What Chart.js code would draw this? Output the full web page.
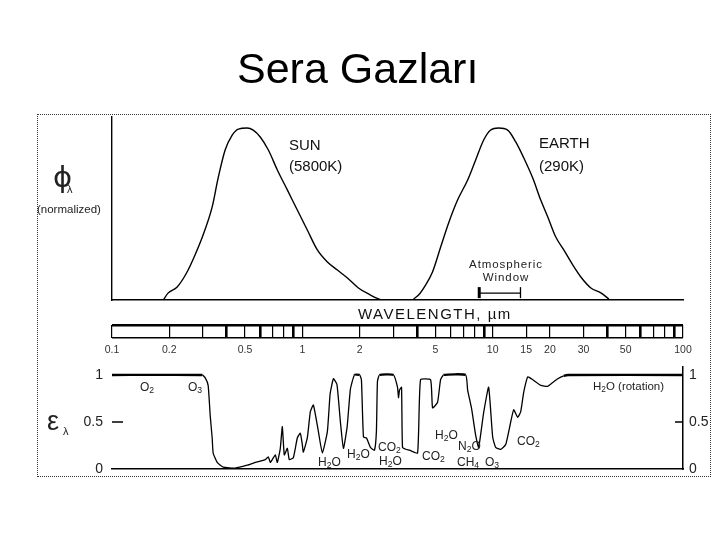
<!DOCTYPE html>
<html><head><meta charset="utf-8">
<script src="https://cdn.jsdelivr.net/npm/chart.js@4.4.1/dist/chart.umd.min.js"></script>
<style>
html,body{margin:0;padding:0;background:#fff;}
#wrap{position:relative;width:720px;height:540px;overflow:hidden;background:#fff;font-family:'Liberation Sans',Arial,sans-serif;color:#222;}
canvas{position:absolute;left:0;top:0;}
.t{position:absolute;white-space:nowrap;line-height:1;}
.t sub{font-size:0.72em;vertical-align:-0.28em;line-height:0;}
.s12{font-size:12px;}
.s15{font-size:15px;color:#111;}
</style></head><body>
<div id="wrap">
<div style="position:absolute;left:37px;top:114px;width:674px;height:363px;box-sizing:border-box;border:1px dotted #333;"></div>
<canvas id="cTop" width="720" height="540"></canvas>
<canvas id="cStrip" width="720" height="540"></canvas>
<canvas id="cAbs" width="720" height="540"></canvas>

<div class="t" style="left:237px;top:47px;font-size:43px;color:#000;">Sera Gazları</div>

<div class="t" style="left:53px;top:163px;font-size:29px;font-family:'DejaVu Sans';color:#222;">ϕ</div>
<div class="t" style="left:67px;top:184px;font-size:11px;">λ</div>
<div class="t" style="left:37px;top:204px;font-size:11.5px;">(normalized)</div>

<div class="t s15" style="left:289px;top:137px;">SUN</div>
<div class="t s15" style="left:289px;top:158px;">(5800K)</div>
<div class="t s15" style="left:539px;top:135px;">EARTH</div>
<div class="t s15" style="left:539px;top:158px;">(290K)</div>
<div class="t" style="left:456px;top:258px;width:100px;text-align:center;font-size:11.5px;line-height:13px;letter-spacing:0.9px;">Atmospheric<br>Window</div>

<div class="t" style="left:358px;top:306px;font-size:15px;letter-spacing:1.5px;color:#111;">WAVELENGTH, µm</div>

<div class="t" style="left:47px;top:408px;font-size:27px;">ε</div>
<div class="t" style="left:63px;top:426px;font-size:11px;">λ</div>

<div class="t s12" style="left:140px;top:381px;">O<sub>2</sub></div>
<div class="t s12" style="left:188px;top:381px;">O<sub>3</sub></div>
<div class="t s12" style="left:318px;top:456px;">H<sub>2</sub>O</div>
<div class="t s12" style="left:347px;top:448px;">H<sub>2</sub>O</div>
<div class="t s12" style="left:378px;top:441px;">CO<sub>2</sub></div>
<div class="t s12" style="left:379px;top:455px;">H<sub>2</sub>O</div>
<div class="t s12" style="left:422px;top:450px;">CO<sub>2</sub></div>
<div class="t s12" style="left:435px;top:429px;">H<sub>2</sub>O</div>
<div class="t s12" style="left:458px;top:440px;">N<sub>2</sub>O</div>
<div class="t s12" style="left:457px;top:456px;">CH<sub>4</sub></div>
<div class="t s12" style="left:485px;top:456px;">O<sub>3</sub></div>
<div class="t s12" style="left:517px;top:435px;">CO<sub>2</sub></div>
<div class="t s12" style="left:593px;top:381px;font-size:11.5px;">H<sub>2</sub>O (rotation)</div>
</div>
<script>
// ---- data ----
const wavelengthTicks = [0.1,0.2,0.3,0.4,0.5,0.6,0.7,0.8,0.9,1,2,3,4,5,6,7,8,9,10,15,20,30,40,50,60,70,80,90,100];
const wavelengthLabels = [0.1,0.2,0.5,1,2,5,10,15,20,30,50,100];
const boldTicks = [0.4,0.6,0.9,4,9,40,60,90];
const epsTicks = [0,0.5,1];
const windowRange = [8.5,14];

const sunWavelength = [0.186,0.197,0.220,0.248,0.273,0.301,0.336,0.361,0.393,0.428,0.461,0.513,0.552,0.601,0.663,0.739,0.834,0.941,1.062,1.199,1.354,1.529,1.726,1.971,2.280,2.512,2.6];
const sunPhi = [0,0.04,0.076,0.163,0.262,0.378,0.541,0.709,0.872,0.959,0.994,1.0,0.988,0.948,0.872,0.756,0.640,0.523,0.407,0.291,0.221,0.174,0.128,0.070,0.029,0.006,0];

const earthWavelength = [3.84,4.08,4.44,4.83,5.33,5.87,6.54,7.39,8.14,8.97,9.76,10.75,11.99,13.22,14.57,16.24,17.89,19.48,21.46,23.64,26.38,29.06,32.81,37.02,40.79];
const earthPhi = [0.006,0.029,0.087,0.163,0.308,0.448,0.581,0.698,0.814,0.930,0.988,1.0,0.988,0.919,0.826,0.709,0.581,0.483,0.366,0.291,0.203,0.134,0.070,0.041,0.006];

const absWavelength = [0.1,0.298,0.309,0.320,0.328,0.336,0.340,0.357,0.384,0.444,0.513,0.566,0.639,0.662,0.679,0.695,0.721,0.739,0.766,0.785,0.804,0.834,0.854,0.897,0.941,0.976,1.0,1.012,1.062,1.102,1.143,1.214,1.274,1.354,1.40,1.457,1.52,1.585,1.644,1.72,1.789,1.878,2.0,2.044,2.095,2.172,2.280,2.393,2.45,2.481,2.543,3.012,3.162,3.201,3.240,3.320,3.360,3.5,3.659,4.031,4.180,4.719,4.834,5.134,5.325,5.523,7.210,7.387,7.753,8.138,8.440,8.967,9.526,10.0,10.37,11.02,11.71,12.44,12.90,13.54,14.04,14.57,15.29,16.24,17.89,19.48,20.69,21.98,23.64,25,100];
const absEmissivity = [1,1,0.97,0.89,0.57,0.33,0.17,0.07,0.02,0.01,0.04,0.07,0.10,0.13,0.07,0.10,0.15,0.07,0.22,0.45,0.15,0.22,0.10,0.12,0.33,0.38,0.26,0.18,0.33,0.61,0.68,0.40,0.17,0.40,0.80,0.96,0.90,0.50,0.22,0.45,0.85,1.0,1.0,0.95,0.34,0.33,0.23,0.20,0.40,0.93,1.0,1.0,0.87,0.76,0.84,0.87,0.23,0.21,0.20,0.17,0.95,0.95,0.65,0.71,0.95,1.0,1.0,0.84,0.64,0.36,0.23,0.6,0.87,0.34,0.23,0.21,0.26,0.50,0.63,0.55,0.61,0.82,0.98,0.95,0.89,0.88,0.92,0.96,0.99,1.0,1.0];

// ---- setup ----
Chart.defaults.font.family = "'Liberation Sans', Arial, sans-serif";
Chart.defaults.animation = false;
Chart.defaults.plugins.legend.display = false;
Chart.defaults.plugins.tooltip.enabled = false;
Chart.defaults.events = [];

const pts = (xs, ys) => xs.map((x, i) => ({x, y: ys[i]}));
const blackLine = {borderColor:'#000', borderWidth:1.4, pointRadius:0, fill:false, cubicInterpolationMode:'monotone'};

// Top panel: normalized emission spectra
const windowBracket = {
  id:'windowBracket',
  afterDatasetsDraw(chart){
    const {ctx, scales:{x, y}} = chart;
    const x1 = x.getPixelForValue(windowRange[0]), x2 = x.getPixelForValue(windowRange[1]);
    const yy = y.getPixelForValue(0.04);
    ctx.save(); ctx.strokeStyle = '#000';
    ctx.lineWidth = 1.3; ctx.beginPath(); ctx.moveTo(x1, yy); ctx.lineTo(x2, yy); ctx.stroke();
    ctx.lineWidth = 3; ctx.beginPath(); ctx.moveTo(x1, yy-6); ctx.lineTo(x1, yy+5); ctx.stroke();
    ctx.lineWidth = 1.3; ctx.beginPath(); ctx.moveTo(x2, yy-6); ctx.lineTo(x2, yy+5); ctx.stroke();
    ctx.restore();
  }
};
new Chart(document.getElementById('cTop'), {
  type:'line',
  data:{datasets:[
    Object.assign({label:'SUN', data:pts(sunWavelength, sunPhi)}, blackLine),
    Object.assign({label:'EARTH', data:pts(earthWavelength, earthPhi)}, blackLine)
  ]},
  options:{
    responsive:false, devicePixelRatio:1,
    layout:{padding:{left:112, right:37, top:117, bottom:240}},
    scales:{
      x:{type:'logarithmic', min:0.1, max:100, ticks:{display:false}, grid:{display:false, drawTicks:false},
         border:{display:true, color:'#000', width:1.4}, afterFit(s){ s.height = 0; }},
      y:{min:0, max:1.064, ticks:{display:false}, grid:{display:false, drawTicks:false},
         border:{display:true, color:'#000', width:1.4}, afterFit(s){ s.width = 0; }}
    }
  },
  plugins:[windowBracket]
});

// Wavelength strip
new Chart(document.getElementById('cStrip'), {
  type:'line',
  data:{datasets:[]},
  options:{
    responsive:false, devicePixelRatio:1,
    layout:{padding:{left:112, right:37, top:325, bottom:177}},
    scales:{
      x:{type:'logarithmic', min:0.1, max:100,
         afterBuildTicks(s){ s.ticks = wavelengthTicks.map(v => ({value:v})); },
         ticks:{autoSkip:false, maxRotation:0, minRotation:0, padding:6, color:'#333', font:{size:10.5},
                callback:(v) => wavelengthLabels.includes(v) ? String(v) : ''},
         grid:{display:true, drawOnChartArea:true, drawTicks:false, color:'#000',
               lineWidth:(c) => (c.tick && boldTicks.includes(c.tick.value)) ? 2.6 : 1.2},
         border:{display:false}, afterFit(s){ s.height = 25; }},
      y:{min:0, max:1, afterBuildTicks(s){ s.ticks = [{value:0},{value:1}]; },
         ticks:{display:false}, grid:{drawTicks:false, color:'#000',
               lineWidth:(c) => (c.tick && c.tick.value === 1) ? 2.6 : 1.6},
         border:{display:false}, afterFit(s){ s.width = 0; }}
    }
  }
});

// Bottom panel: absorptivity
const innerTicks = {
  id:'innerTicks',
  afterDraw(chart){
    const {ctx, chartArea:a, scales:{y}} = chart;
    const yy = y.getPixelForValue(0.5);
    ctx.save(); ctx.strokeStyle = '#000'; ctx.lineWidth = 1.6;
    ctx.beginPath(); ctx.moveTo(a.left, yy); ctx.lineTo(a.left + 11, yy);
    ctx.moveTo(a.right - 8, yy); ctx.lineTo(a.right, yy); ctx.stroke();
    ctx.restore();
  }
};
const epsAxis = (pos, pad, w, border) => ({
  position:pos, min:0, max:1.085,
  afterBuildTicks(s){ s.ticks = epsTicks.map(v => ({value:v})); },
  ticks:{padding:pad, color:'#222', font:{size:14}, callback:(v) => String(v)},
  grid:{display:false, drawTicks:false},
  border:{display:border, color:'#000', width:1.5},
  afterFit(s){ s.width = w; }
});
new Chart(document.getElementById('cAbs'), {
  type:'line',
  data:{datasets:[Object.assign({label:'absorptivity', data:pts(absWavelength, absEmissivity), clip:false,
    segment:{borderWidth:(c) => (absEmissivity[c.p0DataIndex] >= 0.99 && absEmissivity[c.p1DataIndex] >= 0.99) ? 2.3 : 1.3}
  }, blackLine, {cubicInterpolationMode:'default', tension:0.15})]},
  options:{
    responsive:false, devicePixelRatio:1,
    layout:{padding:{left:72, right:0, top:367, bottom:71}},
    scales:{
      x:{type:'logarithmic', min:0.1, max:100, ticks:{display:false}, grid:{display:false, drawTicks:false},
         border:{display:true, color:'#000', width:1.5}, afterFit(s){ s.height = 0; }},
      y:epsAxis('left', 9, 40, false),
      yR:epsAxis('right', 6, 37, true)
    }
  },
  plugins:[innerTicks]
});
</script>
</body></html>
